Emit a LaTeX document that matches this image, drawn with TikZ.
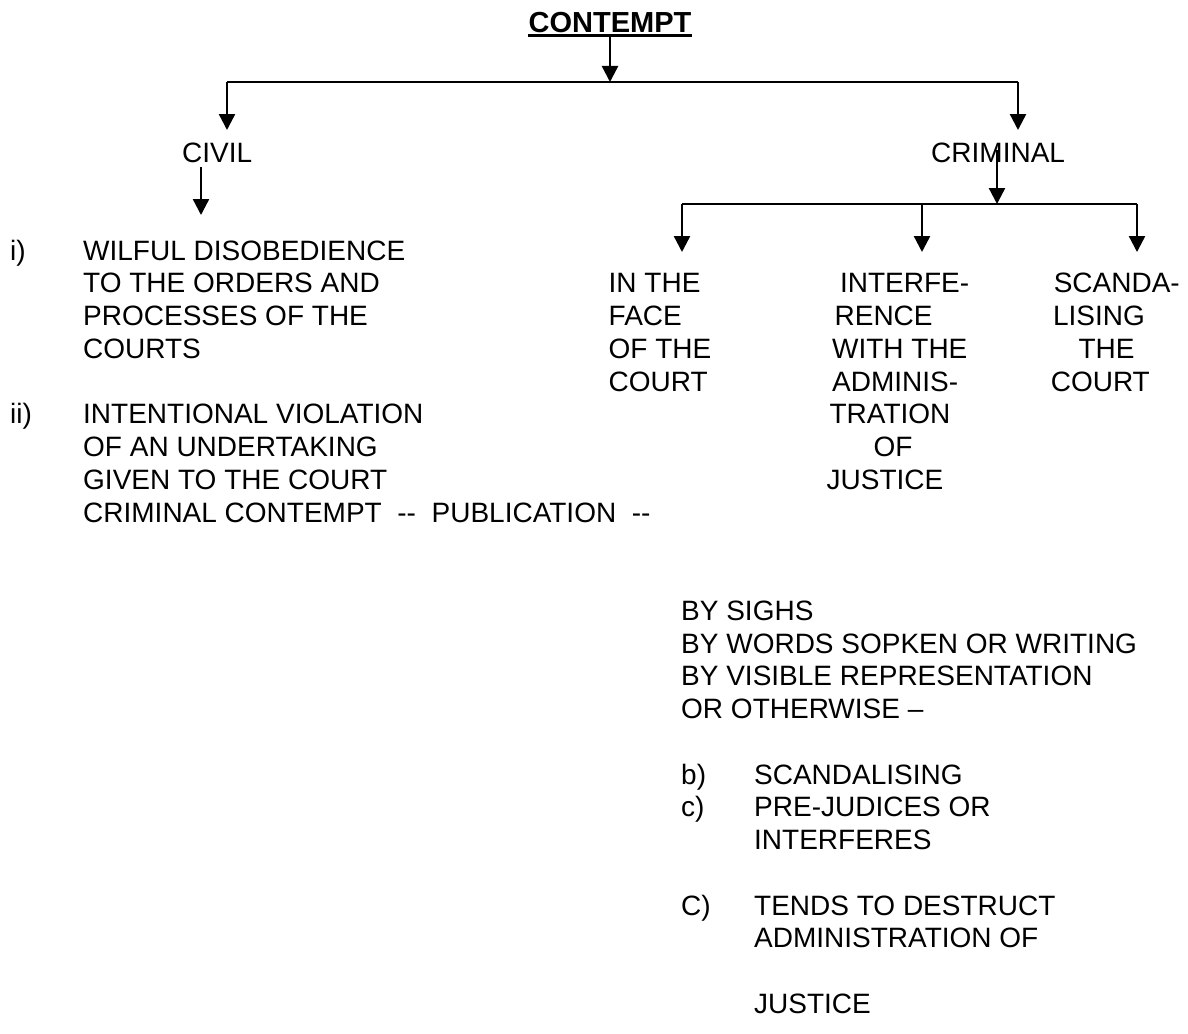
\documentclass[tikz,border=0pt]{standalone}
\usepackage{fontspec}
\setmainfont{Liberation Sans}
\usetikzlibrary{arrows.meta}
\newcommand{\lines}[1]{\begin{tabular}[t]{@{}l@{}}#1\end{tabular}}
\newcommand{\items}[1]{\begin{tabular}[t]{@{}p{73pt}@{}l@{}}#1\end{tabular}}
\begin{document}
\begin{tikzpicture}[x=1pt,y=-1pt,
  txt/.style={inner sep=0pt, anchor=base west, font=\fontsize{28}{32.75}\selectfont},
  ttl/.style={inner sep=0pt, anchor=base, font=\fontsize{29}{34}\selectfont\bfseries},
  ln/.style={line width=2.4pt},
  arr/.style={line width=2.4pt, -{Triangle[width=16pt,length=16pt]}},
]
\useasboundingbox (0,0) rectangle (1188,1033);

% title
\node[ttl] (title) at (610,33) {CONTEMPT};
\draw[line width=2.4pt] ([yshift=-2.5pt]title.base west) -- ([yshift=-2.5pt]title.base east);

% level 1
\node[txt] (civil) at (182,162) {CIVIL};
\node[txt] (criminal) at (931,162) {CRIMINAL};

% civil items
\node[txt] (civi) at (10,260) {\items{i) & WILFUL DISOBEDIENCE\\ & TO THE ORDERS AND\\ & PROCESSES OF THE\\ & COURTS}};
\node[txt] (civii) at (10,423.75) {\items{ii) & INTENTIONAL VIOLATION\\ & OF AN UNDERTAKING\\ & GIVEN TO THE COURT\\ & CRIMINAL CONTEMPT~~-{}-~~PUBLICATION~~-{}-}};

% criminal kinds
\node[txt] (face) at (608.5,292.75) {\lines{IN THE\\FACE\\OF THE\\COURT}};
\node[txt] (interf) at (826.4,292.75) {\lines{\hspace*{13.5pt}INTERFE-\\\hspace*{8pt}RENCE\\\hspace*{5.5pt}WITH THE\\\hspace*{5.5pt}ADMINIS-\\\hspace*{3pt}TRATION\\\hspace*{47pt}OF\\JUSTICE}};
\node[txt] (scand) at (1050.6,292.75) {\lines{\hspace*{3pt}SCANDA-\\\hspace*{2.3pt}LISING\\\hspace*{27.8pt}THE\\COURT}};

% publication
\node[txt] (pubs) at (681,620.25) {\lines{BY SIGHS\\BY WORDS SOPKEN OR WRITING\\BY VISIBLE REPRESENTATION\\OR OTHERWISE –}};
\node[txt] (kinds) at (681,784) {\items{b) & SCANDALISING\\ c) & PRE-JUDICES OR\\ & INTERFERES\\ & \\ C) & TENDS TO DESTRUCT\\ & ADMINISTRATION OF\\ & \\ & JUSTICE}};

% connectors
\coordinate (hub) at (610,82);
\coordinate (hl) at (227,82);
\coordinate (hr) at (1018,82);
\coordinate (civtip) at (227,130);
\coordinate (crimtip) at (1018,130);
\draw[arr] ([yshift=-4pt]title.south) -- (hub);
\draw[ln] (hl) -- (hr);
\draw[arr] (hl) -- (civtip);
\draw[arr] (hr) -- (crimtip);

\coordinate (civsrc) at (201,167);
\coordinate (civdst) at (201,215);
\draw[arr] (civsrc) -- (civdst);

\coordinate (csrc) at (997,150);
\coordinate (chub) at (997,204);
\coordinate (cl) at (682,204);
\coordinate (cm) at (922,204);
\coordinate (cr) at (1137,204);
\draw[arr] (csrc) -- (chub);
\draw[ln] (cl) -- (cr);
\draw[arr] (cl) -- (682,252);
\draw[arr] (cm) -- (922,252);
\draw[arr] (cr) -- (1137,252);
\end{tikzpicture}
\end{document}
